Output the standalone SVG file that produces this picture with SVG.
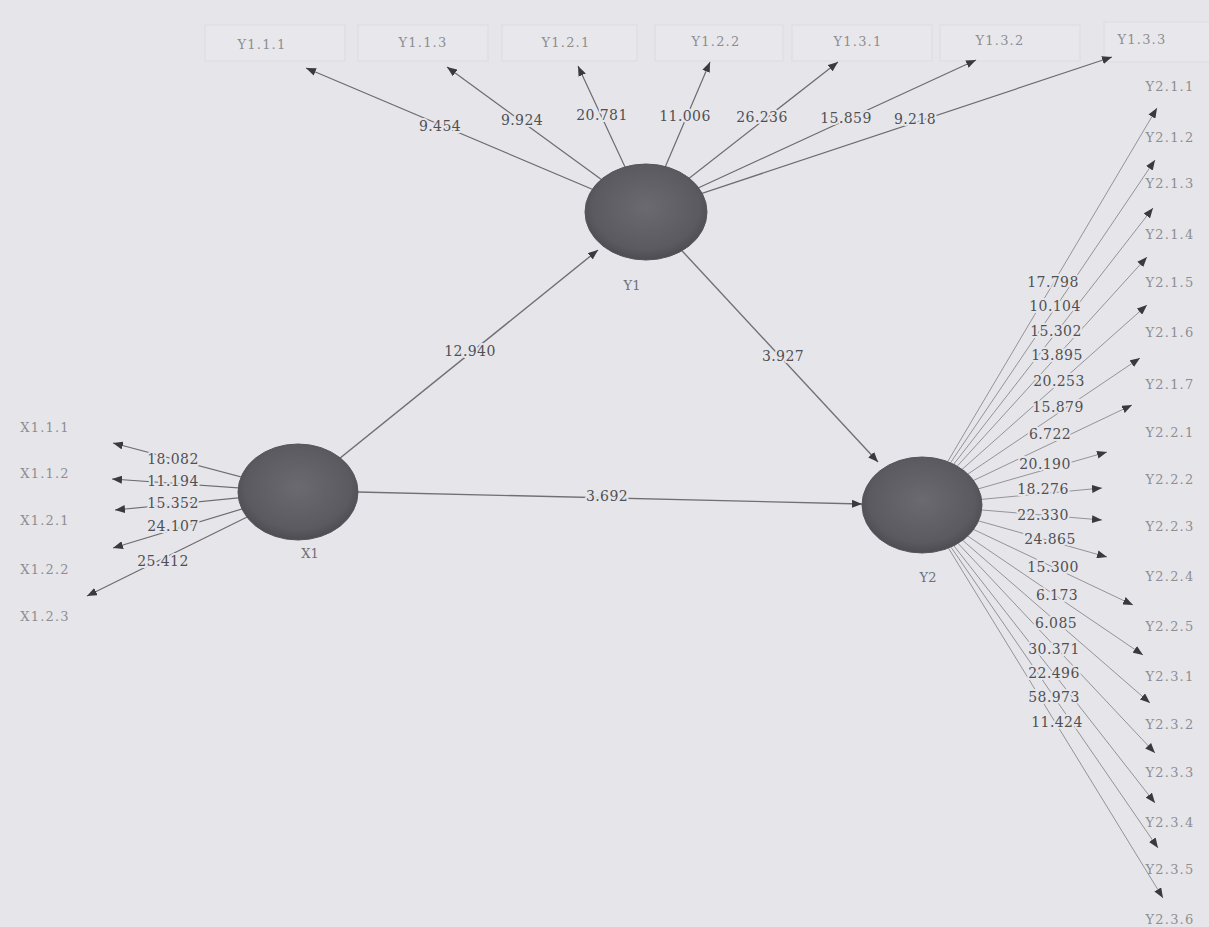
<svg xmlns="http://www.w3.org/2000/svg" width="1209" height="927" viewBox="0 0 1209 927">
  <defs>
    <style>
      .ind { font-family: "DejaVu Serif", "Liberation Serif", serif; font-size: 13px; fill: #8e8e92; letter-spacing: 1.2px; text-anchor: middle; }
      .val { font-family: "DejaVu Serif", "Liberation Serif", serif; font-size: 14px; fill: #505054; letter-spacing: 0.4px; text-anchor: middle; paint-order: stroke; stroke: #e6e6ea; stroke-width: 4px; stroke-linejoin: round; }
      .lv { font-family: "DejaVu Serif", "Liberation Serif", serif; font-size: 13px; fill: #707074; text-anchor: middle; }
      .ln { stroke: #6c6c70; stroke-width: 1.2; fill: none; marker-end: url(#tip); }
      .lnf { stroke: #939397; stroke-width: 1; fill: none; marker-end: url(#tip); }
      .path { stroke: #707074; stroke-width: 1.4; fill: none; marker-end: url(#tip); }
      .box { fill: #e8e8ec; stroke: #dcdce0; stroke-width: 1; }
      .latent { fill: url(#lvFill); stroke: #55555a; stroke-width: 1; }
    </style>
    <marker id="tip" viewBox="0 0 10 8" refX="10" refY="4" markerWidth="10" markerHeight="8" markerUnits="userSpaceOnUse" orient="auto">
      <path d="M0,0 L10,4 L0,8 Z" fill="#3a3a3e"/>
    </marker>
    <radialGradient id="lvFill" cx="50%" cy="45%" r="55%">
      <stop offset="0" stop-color="#6a6a70"/>
      <stop offset="0.8" stop-color="#5a5a60"/>
      <stop offset="1" stop-color="#4c4c52"/>
    </radialGradient>
  </defs>

  <rect x="0" y="0" width="1209" height="927" fill="#e6e6ea"/>

  <!-- faint indicator frames along the top -->
  <g id="frames">
    <rect class="box" x="205" y="25" width="140" height="36"/>
    <rect class="box" x="358" y="25" width="130" height="36"/>
    <rect class="box" x="502" y="25" width="135" height="36"/>
    <rect class="box" x="655" y="25" width="128" height="36"/>
    <rect class="box" x="792" y="25" width="140" height="36"/>
    <rect class="box" x="940" y="25" width="140" height="36"/>
    <rect class="box" x="1104" y="22" width="110" height="40"/>
  </g>

  <g id="connectors">
    <!-- Y1 outer loadings -->
    <line class="ln" x1="646" y1="212" x2="306" y2="68"/>
    <line class="ln" x1="646" y1="212" x2="447" y2="67"/>
    <line class="ln" x1="646" y1="212" x2="578" y2="66"/>
    <line class="ln" x1="646" y1="212" x2="710" y2="62"/>
    <line class="ln" x1="646" y1="212" x2="838" y2="62"/>
    <line class="ln" x1="646" y1="212" x2="976" y2="60"/>
    <line class="ln" x1="646" y1="212" x2="1112" y2="57"/>
    <!-- X1 outer loadings -->
    <line class="ln" x1="298" y1="492" x2="113" y2="443"/>
    <line class="ln" x1="298" y1="492" x2="112" y2="479"/>
    <line class="ln" x1="298" y1="492" x2="115" y2="510"/>
    <line class="ln" x1="298" y1="492" x2="113" y2="548"/>
    <line class="ln" x1="298" y1="492" x2="87" y2="596"/>
    <!-- Y2 outer loadings -->
    <line class="lnf" x1="922" y1="505" x2="1157" y2="108"/>
    <line class="lnf" x1="922" y1="505" x2="1155" y2="160"/>
    <line class="lnf" x1="922" y1="505" x2="1153" y2="208"/>
    <line class="lnf" x1="922" y1="505" x2="1147" y2="257"/>
    <line class="lnf" x1="922" y1="505" x2="1147" y2="305"/>
    <line class="lnf" x1="922" y1="505" x2="1140" y2="358"/>
    <line class="lnf" x1="922" y1="505" x2="1132" y2="405"/>
    <line class="lnf" x1="922" y1="505" x2="1107" y2="452"/>
    <line class="lnf" x1="922" y1="505" x2="1102" y2="488"/>
    <line class="lnf" x1="922" y1="505" x2="1102" y2="520"/>
    <line class="lnf" x1="922" y1="505" x2="1107" y2="557"/>
    <line class="lnf" x1="922" y1="505" x2="1133" y2="605"/>
    <line class="lnf" x1="922" y1="505" x2="1143" y2="655"/>
    <line class="lnf" x1="922" y1="505" x2="1150" y2="703"/>
    <line class="lnf" x1="922" y1="505" x2="1155" y2="753"/>
    <line class="lnf" x1="922" y1="505" x2="1155" y2="803"/>
    <line class="lnf" x1="922" y1="505" x2="1158" y2="848"/>
    <line class="lnf" x1="922" y1="505" x2="1163" y2="898"/>
    <!-- structural paths -->
    <line class="path" x1="298" y1="492" x2="598" y2="250"/>
    <line class="path" x1="646" y1="212" x2="878" y2="462"/>
    <line class="path" x1="358" y1="492" x2="862" y2="504"/>

    <!-- coefficient labels -->
    <text class="val" x="440" y="131">9.454</text>
    <text class="val" x="522" y="125">9.924</text>
    <text class="val" x="602" y="120">20.781</text>
    <text class="val" x="685" y="121">11.006</text>
    <text class="val" x="762" y="122">26.236</text>
    <text class="val" x="846" y="123">15.859</text>
    <text class="val" x="915" y="124">9.218</text>

    <text class="val" x="173" y="464">18.082</text>
    <text class="val" x="173" y="486">11.194</text>
    <text class="val" x="173" y="508">15.352</text>
    <text class="val" x="173" y="531">24.107</text>
    <text class="val" x="163" y="566">25.412</text>

    <text class="val" x="1053" y="287">17.798</text>
    <text class="val" x="1055" y="311">10.104</text>
    <text class="val" x="1056" y="336">15.302</text>
    <text class="val" x="1057" y="360">13.895</text>
    <text class="val" x="1059" y="386">20.253</text>
    <text class="val" x="1058" y="412">15.879</text>
    <text class="val" x="1050" y="439">6.722</text>
    <text class="val" x="1045" y="469">20.190</text>
    <text class="val" x="1043" y="494">18.276</text>
    <text class="val" x="1043" y="520">22.330</text>
    <text class="val" x="1050" y="544">24.865</text>
    <text class="val" x="1053" y="572">15.300</text>
    <text class="val" x="1057" y="600">6.173</text>
    <text class="val" x="1056" y="628">6.085</text>
    <text class="val" x="1054" y="654">30.371</text>
    <text class="val" x="1054" y="678">22.496</text>
    <text class="val" x="1054" y="702">58.973</text>
    <text class="val" x="1057" y="727">11.424</text>

    <text class="val" x="470" y="356">12.940</text>
    <text class="val" x="783" y="361">3.927</text>
    <text class="val" x="607" y="501">3.692</text>
  </g>

  <!-- latent variables -->
  <g id="Y1">
    <ellipse class="latent" cx="646" cy="212" rx="61" ry="48"/>
    <text class="lv" x="632" y="290">Y1</text>
  </g>
  <g id="X1">
    <ellipse class="latent" cx="298" cy="492" rx="60" ry="48"/>
    <text class="lv" x="310" y="558">X1</text>
  </g>
  <g id="Y2">
    <ellipse class="latent" cx="922" cy="505" rx="60" ry="48"/>
    <text class="lv" x="928" y="582">Y2</text>
  </g>

  <!-- indicators of Y1 -->
  <g id="Y1.1.1"><text class="ind" x="262" y="49">Y1.1.1</text></g>
  <g id="Y1.1.3"><text class="ind" x="423" y="47">Y1.1.3</text></g>
  <g id="Y1.2.1"><text class="ind" x="566" y="47">Y1.2.1</text></g>
  <g id="Y1.2.2"><text class="ind" x="716" y="46">Y1.2.2</text></g>
  <g id="Y1.3.1"><text class="ind" x="858" y="46">Y1.3.1</text></g>
  <g id="Y1.3.2"><text class="ind" x="1000" y="45">Y1.3.2</text></g>
  <g id="Y1.3.3"><text class="ind" x="1142" y="44">Y1.3.3</text></g>

  <!-- indicators of X1 -->
  <g id="X1.1.1"><text class="ind" x="45" y="432">X1.1.1</text></g>
  <g id="X1.1.2"><text class="ind" x="45" y="478">X1.1.2</text></g>
  <g id="X1.2.1"><text class="ind" x="45" y="525">X1.2.1</text></g>
  <g id="X1.2.2"><text class="ind" x="45" y="574">X1.2.2</text></g>
  <g id="X1.2.3"><text class="ind" x="45" y="621">X1.2.3</text></g>

  <!-- indicators of Y2 -->
  <g id="Y2.1.1"><text class="ind" x="1170" y="91">Y2.1.1</text></g>
  <g id="Y2.1.2"><text class="ind" x="1170" y="142">Y2.1.2</text></g>
  <g id="Y2.1.3"><text class="ind" x="1170" y="188">Y2.1.3</text></g>
  <g id="Y2.1.4"><text class="ind" x="1170" y="239">Y2.1.4</text></g>
  <g id="Y2.1.5"><text class="ind" x="1170" y="287">Y2.1.5</text></g>
  <g id="Y2.1.6"><text class="ind" x="1170" y="337">Y2.1.6</text></g>
  <g id="Y2.1.7"><text class="ind" x="1170" y="389">Y2.1.7</text></g>
  <g id="Y2.2.1"><text class="ind" x="1170" y="437">Y2.2.1</text></g>
  <g id="Y2.2.2"><text class="ind" x="1170" y="484">Y2.2.2</text></g>
  <g id="Y2.2.3"><text class="ind" x="1170" y="531">Y2.2.3</text></g>
  <g id="Y2.2.4"><text class="ind" x="1170" y="581">Y2.2.4</text></g>
  <g id="Y2.2.5"><text class="ind" x="1170" y="631">Y2.2.5</text></g>
  <g id="Y2.3.1"><text class="ind" x="1170" y="681">Y2.3.1</text></g>
  <g id="Y2.3.2"><text class="ind" x="1170" y="729">Y2.3.2</text></g>
  <g id="Y2.3.3"><text class="ind" x="1170" y="777">Y2.3.3</text></g>
  <g id="Y2.3.4"><text class="ind" x="1170" y="827">Y2.3.4</text></g>
  <g id="Y2.3.5"><text class="ind" x="1170" y="874">Y2.3.5</text></g>
  <g id="Y2.3.6"><text class="ind" x="1170" y="924">Y2.3.6</text></g>
</svg>
